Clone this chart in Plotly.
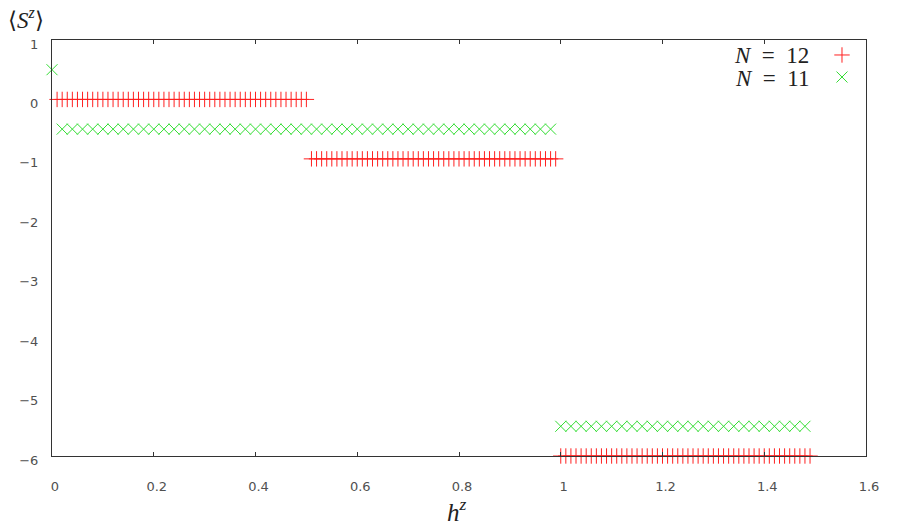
import plotly.graph_objects as go

# N = 12 data (h^z, <S^z>) in three plateaus
n12_h_a = [0.01, 0.02, 0.03, 0.04, 0.05, 0.06, 0.07, 0.08, 0.09, 0.10,
           0.11, 0.12, 0.13, 0.14, 0.15, 0.16, 0.17, 0.18, 0.19, 0.20,
           0.21, 0.22, 0.23, 0.24, 0.25, 0.26, 0.27, 0.28, 0.29, 0.30,
           0.31, 0.32, 0.33, 0.34, 0.35, 0.36, 0.37, 0.38, 0.39, 0.40,
           0.41, 0.42, 0.43, 0.44, 0.45, 0.46, 0.47, 0.48, 0.49, 0.50]
n12_h_b = [0.51, 0.52, 0.53, 0.54, 0.55, 0.56, 0.57, 0.58, 0.59, 0.60,
           0.61, 0.62, 0.63, 0.64, 0.65, 0.66, 0.67, 0.68, 0.69, 0.70,
           0.71, 0.72, 0.73, 0.74, 0.75, 0.76, 0.77, 0.78, 0.79, 0.80,
           0.81, 0.82, 0.83, 0.84, 0.85, 0.86, 0.87, 0.88, 0.89, 0.90,
           0.91, 0.92, 0.93, 0.94, 0.95, 0.96, 0.97, 0.98, 0.99]
n12_h_c = [1.00, 1.01, 1.02, 1.03, 1.04, 1.05, 1.06, 1.07, 1.08, 1.09,
           1.10, 1.11, 1.12, 1.13, 1.14, 1.15, 1.16, 1.17, 1.18, 1.19,
           1.20, 1.21, 1.22, 1.23, 1.24, 1.25, 1.26, 1.27, 1.28, 1.29,
           1.30, 1.31, 1.32, 1.33, 1.34, 1.35, 1.36, 1.37, 1.38, 1.39,
           1.40, 1.41, 1.42, 1.43, 1.44, 1.45, 1.46, 1.47, 1.48, 1.49]
n12_levels = [0, -1, -6]

# N = 11 data
n11_h_a = [0.00]
n11_h_b = [0.02, 0.04, 0.06, 0.08, 0.10, 0.12, 0.14, 0.16, 0.18, 0.20,
           0.22, 0.24, 0.26, 0.28, 0.30, 0.32, 0.34, 0.36, 0.38, 0.40,
           0.42, 0.44, 0.46, 0.48, 0.50, 0.52, 0.54, 0.56, 0.58, 0.60,
           0.62, 0.64, 0.66, 0.68, 0.70, 0.72, 0.74, 0.76, 0.78, 0.80,
           0.82, 0.84, 0.86, 0.88, 0.90, 0.92, 0.94, 0.96, 0.98]
n11_h_c = [1.00, 1.02, 1.04, 1.06, 1.08, 1.10, 1.12, 1.14, 1.16, 1.18,
           1.20, 1.22, 1.24, 1.26, 1.28, 1.30, 1.32, 1.34, 1.36, 1.38,
           1.40, 1.42, 1.44, 1.46, 1.48]
n11_levels = [0.5, -0.5, -5.5]

x_ticks = [0, 0.2, 0.4, 0.6, 0.8, 1.0, 1.2, 1.4, 1.6]
x_tick_labels = ["0", "0.2", "0.4", "0.6", "0.8", "1", "1.2", "1.4", "1.6"]
y_ticks = [1, 0, -1, -2, -3, -4, -5, -6]
y_tick_labels = ["1", "0", "−1", "−2", "−3", "−4", "−5", "−6"]

RED = "#ff2020"
GREEN = "#33dd33"

n12_x, n12_y = [], []
for hs, lv in zip([n12_h_a, n12_h_b, n12_h_c], n12_levels):
    n12_x += hs
    n12_y += [lv] * len(hs)
n11_x, n11_y = [], []
for hs, lv in zip([n11_h_a, n11_h_b, n11_h_c], n11_levels):
    n11_x += hs
    n11_y += [lv] * len(hs)


def mk(symbol, color):
    return dict(symbol=symbol, size=11, color=color, line=dict(color=color, width=1))


fig = go.Figure()
fig.add_trace(go.Scatter(x=n12_x, y=n12_y, mode="markers", cliponaxis=False,
                         showlegend=False, marker=mk("cross-thin-open", RED)))
fig.add_trace(go.Scatter(x=n11_x, y=n11_y, mode="markers", cliponaxis=False,
                         showlegend=False, marker=mk("x-thin-open", GREEN)))

# legend keys on an overlay axis (paper-like 0..1 coordinates)
fig.add_trace(go.Scatter(x=[0.9705], y=[0.964], xaxis="x2", yaxis="y2", mode="markers",
                         showlegend=False, cliponaxis=False, marker=mk("cross-thin-open", RED)))
fig.add_trace(go.Scatter(x=[0.9705], y=[0.911], xaxis="x2", yaxis="y2", mode="markers",
                         showlegend=False, cliponaxis=False, marker=mk("x-thin-open", GREEN)))

tick_font = dict(family="DejaVu Sans", size=13, color="#505050")
serif = "Liberation Serif"

fig.update_layout(
    width=900, height=528,
    margin=dict(l=44, r=42, t=32, b=80),
    paper_bgcolor="white", plot_bgcolor="white",
    xaxis=dict(range=[0, 1.6], tickvals=x_ticks, ticktext=x_tick_labels,
               ticks="inside", ticklen=4, tickcolor="#333", tickwidth=1,
               showline=True, linecolor="#333", linewidth=1, mirror="ticks",
               showgrid=False, zeroline=False, tickfont=tick_font,
               ticklabelstandoff=18, ticklabelshift=3),
    yaxis=dict(range=[-6, 1], tickvals=y_ticks, ticktext=y_tick_labels,
               ticks="", showline=True, linecolor="#333", linewidth=1, mirror=True,
               showgrid=False, zeroline=False, tickfont=tick_font,
               ticklabelstandoff=10, ticklabelshift=4),
    xaxis2=dict(range=[0, 1], overlaying="x", visible=False),
    yaxis2=dict(range=[0, 1], overlaying="y", visible=False),
    annotations=[
        dict(text="⟨<i>S</i><sup><i>z</i></sup>⟩", xref="paper", yref="paper",
             x=-0.032, y=1.052, xanchor="center", yanchor="middle", showarrow=False,
             font=dict(family=serif, size=23, color="#222")),
        dict(text="<i>h</i><sup><i>z</i></sup>", xref="paper", yref="paper",
             x=0.498, y=-0.13, xanchor="center", yanchor="middle", showarrow=False,
             font=dict(family=serif, size=25, color="#222")),
        dict(text="<i>N</i>\u2002=\u200212", xref="paper", yref="paper",
             x=(811 - 52) / 814, y=(456 - 56) / 416, xanchor="right", yanchor="middle",
             showarrow=False, font=dict(family=serif, size=23, color="#222")),
        dict(text="<i>N</i>\u2002=\u200211", xref="paper", yref="paper",
             x=(811 - 52) / 814, y=(456 - 78) / 416, xanchor="right", yanchor="middle",
             showarrow=False, font=dict(family=serif, size=23, color="#222")),
    ],
)

fig.write_html("out.html")
